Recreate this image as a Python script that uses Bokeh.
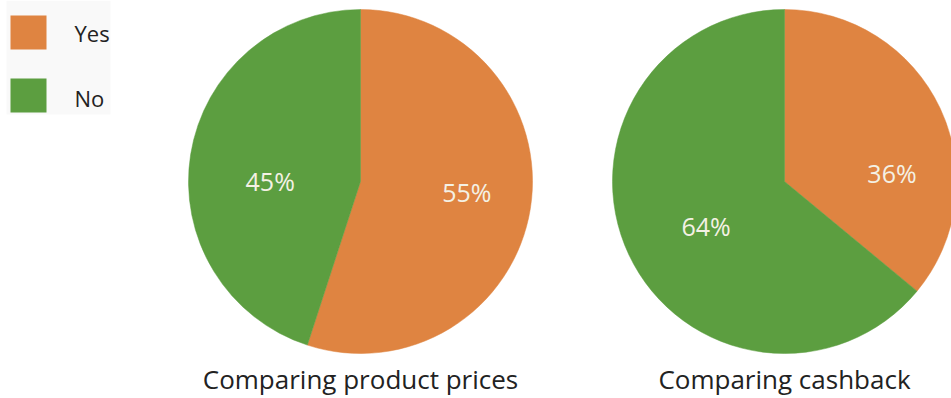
import math
from bokeh.plotting import figure
from bokeh.models import Range1d, ColumnDataSource
from bokeh.core.properties import value
from bokeh.embed import file_html
from bokeh.resources import INLINE

# ---- data ----
categories = ["Yes", "No"]
titles = ["Comparing product prices", "Comparing cashback"]
yes_pct = [55, 36]
no_pct = [45, 64]

# ---- style / layout ----
colors = {"Yes": "#DF8441", "No": "#5C9E40"}
W, H = 951, 398
centers_x = [360, 784]
center_y_from_top = 181
radius = 172
label_frac = 0.62
# per-pie label nudges (screen px, right / down) for [Yes, No]
label_nudge = [[(1, -6), (15, 16)], [(11, 37), (18, -1)]]
font = "Open Sans"

p = figure(width=W, height=H, output_backend="svg", toolbar_location=None,
           x_range=Range1d(0, W), y_range=Range1d(0, H), min_border=0,
           background_fill_color="white", border_fill_color="white")
p.axis.visible = False
p.grid.visible = False
p.outline_line_color = None

def ty(y_top):
    return H - y_top

cy = ty(center_y_from_top)
for i, cx in enumerate(centers_x):
    vals = [yes_pct[i], no_pct[i]]
    total = sum(vals)
    start = math.pi / 2
    wedges = dict(x=[], y=[], s=[], e=[], c=[])
    labs = dict(x=[], y=[], t=[])
    for j, (cat, v) in enumerate(zip(categories, vals)):
        sweep = 2 * math.pi * v / total
        end_a = start
        start_a = start - sweep
        wedges["x"].append(cx); wedges["y"].append(cy)
        wedges["s"].append(start_a); wedges["e"].append(end_a)
        wedges["c"].append(colors[cat])
        mid = (start_a + end_a) / 2
        dx, dy = label_nudge[i][j]
        labs["x"].append(cx + radius * label_frac * math.cos(mid) + dx)
        labs["y"].append(cy + radius * label_frac * math.sin(mid) - dy)
        labs["t"].append(f"{v}%")
        start = start_a
    src = ColumnDataSource(wedges)
    p.wedge(x="x", y="y", radius=radius, start_angle="s", end_angle="e",
            fill_color="c", line_color="c", line_width=0.5, source=src)
    p.text(x="x", y="y", text="t", source=ColumnDataSource(labs),
           text_font=value(font), text_font_size="25px", text_color="#F4F1E4",
           text_align="center", text_baseline="middle")
    p.text(x=[cx], y=[ty(378)], text=[titles[i]], text_font=value(font),
           text_font_size="26px", text_color="#222222",
           text_align="center", text_baseline="middle")

# legend
leg_y = [32, 97]
p.quad(left=[6], right=[110], bottom=[ty(114)], top=[ty(0)],
       fill_color="#F9F9F9", line_color=None)
p.rect(x=[28] * 2, y=[ty(v) for v in [32, 95]], width=36, height=34,
       fill_color=[colors[c] for c in categories], line_color=None)
p.text(x=[74] * 2, y=[ty(v) for v in leg_y], text=categories,
       text_font=value(font), text_font_size="22px", text_color="#222222",
       text_align="left", text_baseline="middle")

open("out.html", "w").write(file_html(p, INLINE))
